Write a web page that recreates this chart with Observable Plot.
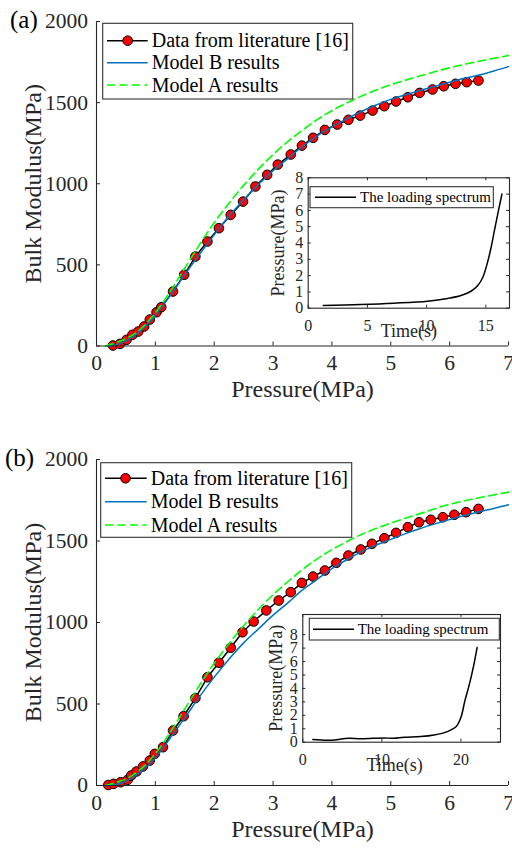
<!DOCTYPE html>
<html><head><meta charset="utf-8">
<script src="https://cdn.jsdelivr.net/npm/d3@7"></script>
<script src="https://cdn.jsdelivr.net/npm/@observablehq/plot@0.6"></script>
<style>
body{margin:0;background:#fff;}
#root{position:relative;width:512px;height:850px;overflow:hidden;}
#root > svg{position:absolute;}
</style></head><body><div id="root"></div>
<script>
const FONT = '"Liberation Serif","Times New Roman",serif';

// ---------- Data ----------
const seriesNames = ["Data from literature [16]", "Model B results", "Model A results"];
const insetLegendName = "The loading spectrum";
const xLabel = "Pressure(MPa)";
const yLabel = "Bulk Modulus(MPa)";
const insetXLabel = "Time(s)";
const insetYLabel = "Pressure(MPa)";

const xTicks = [0, 1, 2, 3, 4, 5, 6, 7];
const yTicks = [0, 500, 1000, 1500, 2000];

// Panel (a)
const litA_p = [0.28,0.40,0.51,0.61,0.71,0.81,0.905,1.02,1.10,1.30,1.49,1.68,1.885,2.08,2.28,2.49,2.70,2.90,3.08,3.30,3.49,3.68,3.88,4.09,4.28,4.48,4.69,4.89,5.09,5.29,5.49,5.71,5.90,6.10,6.29,6.49];
const litA_k = [3,13,38,69,89,120,163,208,239,336,439,551,644,726,808,890,983,1055,1118,1180,1235,1283,1332,1365,1394,1420,1451,1478,1507,1533,1560,1581,1601,1616,1626,1636];
const modelBA_p = [0.17,0.3,0.5,0.75,1.0,1.25,1.5,1.75,2.0,2.25,2.5,2.75,3.0,3.25,3.5,3.75,4.0,4.25,4.5,4.75,5.0,5.25,5.5,5.75,6.0,6.25,6.5,6.75,7.0];
const modelBA_k = [0,5,30,95,190,310,440,565,685,800,900,995,1080,1155,1230,1295,1350,1400,1445,1485,1520,1548,1575,1600,1625,1650,1670,1695,1722];
const modelAA_p = [0.15,0.5,0.75,1.0,1.25,1.5,1.75,2.0,2.25,2.5,2.75,3.0,3.25,3.5,3.75,4.0,4.5,5.0,5.5,6.0,6.5,7.0];
const modelAA_k = [0,45,105,205,335,480,625,760,880,990,1090,1180,1260,1330,1395,1450,1540,1610,1665,1715,1755,1790];
const insetA_t = [1.27,4.43,7.25,10.08,11.78,12.9,13.75,14.32,14.75,15.11,15.45,15.73,16.07,16.36];
const insetA_p = [0.17,0.23,0.31,0.43,0.6,0.78,1.04,1.39,1.9,2.72,3.74,4.77,6.0,7.0];
const insetA_xTicks = [0, 5, 10, 15];
const insetA_yTicks = [0,1,2,3,4,5,6,7,8];

// Panel (b)
const litB_p = [0.20,0.29,0.41,0.53,0.59,0.68,0.79,0.905,0.99,1.13,1.30,1.48,1.68,1.885,2.08,2.28,2.48,2.67,2.886,3.095,3.30,3.49,3.68,3.88,4.075,4.28,4.49,4.68,4.89,5.09,5.29,5.48,5.68,5.885,6.08,6.28,6.49];
const litB_k = [3,10,20,35,61,86,117,153,194,235,337,425,536,664,753,845,940,1006,1074,1135,1186,1243,1282,1319,1366,1411,1448,1483,1517,1550,1585,1615,1630,1646,1661,1677,1697];
const modelBB_p = [0.17,0.3,0.5,0.75,1.0,1.25,1.5,1.75,2.0,2.25,2.5,2.75,3.0,3.25,3.5,3.75,4.0,4.25,4.5,4.75,5.0,5.25,5.5,5.75,6.0,6.25,6.5,6.75,7.0];
const modelBB_k = [0,4,25,85,170,290,415,545,665,775,875,960,1045,1120,1200,1265,1330,1385,1435,1475,1510,1545,1577,1605,1632,1657,1680,1700,1722];
const modelAB_p = [0.15,0.5,0.75,1.0,1.25,1.5,1.75,2.0,2.25,2.5,2.75,3.0,3.25,3.5,3.75,4.0,4.5,5.0,5.5,6.0,6.5,7.0];
const modelAB_k = [0,40,100,195,325,470,615,750,870,980,1080,1170,1250,1325,1390,1447,1540,1610,1668,1725,1765,1800];
const insetB_t = [1.27,3.5,5.84,7.3,10.3,11.5,12.8,14.9,16.6,18.3,19.4,20.0,20.5,21.07,21.6,22.04];
const insetB_p = [0.2,0.15,0.3,0.25,0.32,0.29,0.37,0.42,0.54,0.79,1.16,1.85,3.09,4.32,5.68,7.04];
const insetB_xTicks = [0, 10, 20];
const insetB_yTicks = [0,1,2,3,4,5,6,7,8];

// ---------- helpers ----------
const zip = (xs, ys) => xs.map((x, i) => ({x, y: ys[i]}));
const root = document.getElementById("root");
const AXC = "#262626";

function mainPlot({top, height, marginBottom, lit, mb, ma}) {
  const mL = 96, mR = 4, mT = 21;
  const pw = 512 - mL - mR, ph = height - mT - marginBottom;
  const svg = Plot.plot({
    width: 512, height, marginLeft: mL, marginRight: mR, marginTop: mT, marginBottom,
    x: {domain: [0, 7]}, y: {domain: [0, 2000]},
    style: {fontFamily: FONT, color: AXC, background: "transparent", overflow: "visible"},
    marks: [
      Plot.line(lit, {x: "x", y: "y", stroke: "#000", strokeWidth: 1.5}),
      Plot.dot(lit, {x: "x", y: "y", r: 4.8, fill: "#ff0000", stroke: "#000", strokeWidth: 1}),
      Plot.line(mb, {x: "x", y: "y", stroke: "#0072bd", strokeWidth: 1.5, curve: "catmull-rom"}),
      Plot.line(ma, {x: "x", y: "y", stroke: "#00ff00", strokeWidth: 1.6, strokeDasharray: "8,4.5", curve: "catmull-rom"}),
      Plot.ruleY([0], {stroke: AXC, strokeWidth: 1.1}),
      Plot.ruleX([0], {stroke: AXC, strokeWidth: 1.1}),
      Plot.tickX(xTicks, {x: d => d, insetTop: ph - 4, stroke: AXC}),
      Plot.tickY(yTicks, {y: d => d, insetRight: pw - 4, stroke: AXC}),
      Plot.axisX(xTicks, {tickSize: 0, tickPadding: 9, fontSize: 21.5, fontFamily: FONT, tickFormat: d => String(d), label: null}),
      Plot.axisY(yTicks, {tickSize: 0, tickPadding: 8.5, fontSize: 21.5, fontFamily: FONT, tickFormat: d => String(d), label: null}),
      Plot.text([xLabel], {text: d => d, frameAnchor: "bottom", textAnchor: "middle", dy: 51, fontSize: 24, fontFamily: FONT, fill: AXC}),
      Plot.text([yLabel], {text: d => d, frameAnchor: "left", textAnchor: "middle", dx: -63, rotate: -90, fontSize: 24, fontFamily: FONT, fill: AXC})
    ]
  });
  svg.style.left = "0px"; svg.style.top = top + "px";
  root.appendChild(svg);
}

function insetPlot({left, top, width, height, mL, mR, mT, mB, xDomain, yDomain, xt, yt, pts, yLabDx, xLabDx}) {
  const pw = width - mL - mR, ph = height - mT - mB;
  const svg = Plot.plot({
    width, height, marginLeft: mL, marginRight: mR, marginTop: mT, marginBottom: mB,
    x: {domain: xDomain}, y: {domain: yDomain},
    style: {fontFamily: FONT, color: AXC, background: "transparent", overflow: "visible"},
    marks: [
      Plot.frame({fill: "white", stroke: "none"}),
      Plot.line(pts, {x: "x", y: "y", stroke: "#000", strokeWidth: 1.5, curve: "catmull-rom"}),
      Plot.tickX(xt, {x: d => d, insetTop: ph - 3, stroke: AXC}),
      Plot.tickX(xt, {x: d => d, insetBottom: ph - 3, stroke: AXC}),
      Plot.tickY(yt, {y: d => d, insetRight: pw - 3, stroke: AXC}),
      Plot.tickY(yt, {y: d => d, insetLeft: pw - 3, stroke: AXC}),
      Plot.frame({stroke: AXC, strokeWidth: 1.1}),
      Plot.axisX(xt, {tickSize: 0, tickPadding: 11.3, fontSize: 16, fontFamily: FONT, tickFormat: d => String(d), label: null}),
      Plot.axisY(yt, {tickSize: 0, tickPadding: 5, fontSize: 16, fontFamily: FONT, tickFormat: d => String(d), label: null}),
      Plot.text([insetXLabel], {text: d => d, frameAnchor: "bottom", textAnchor: "middle", dy: 29, dx: xLabDx, fontSize: 18, fontFamily: FONT, fill: AXC}),
      Plot.text([insetYLabel], {text: d => d, frameAnchor: "left", textAnchor: "middle", dx: yLabDx, rotate: -90, fontSize: 18, fontFamily: FONT, fill: AXC})
    ]
  });
  svg.style.left = left + "px"; svg.style.top = top + "px";
  root.appendChild(svg);
}

mainPlot({top: 0, height: 420, marginBottom: 74.5,
  lit: zip(litA_p, litA_k), mb: zip(modelBA_p, modelBA_k), ma: zip(modelAA_p, modelAA_k)});
mainPlot({top: 438, height: 412, marginBottom: 65,
  lit: zip(litB_p, litB_k), mb: zip(modelBB_p, modelBB_k), ma: zip(modelAB_p, modelAB_k)});

insetPlot({left: 250, top: 160, width: 262, height: 190, mL: 57.7, mR: 3, mT: 17.3, mB: 42.3,
  xDomain: [0, 17], yDomain: [0, 8], xt: insetA_xTicks, yt: insetA_yTicks,
  pts: zip(insetA_t, insetA_p), yLabDx: -29.7, xLabDx: 0});
insetPlot({left: 250, top: 600, width: 262, height: 185, mL: 52.3, mR: 12, mT: 14, mB: 43.3,
  xDomain: [0, 25], yDomain: [0, 9.5], xt: insetB_xTicks, yt: insetB_yTicks,
  pts: zip(insetB_t, insetB_p), yLabDx: -27, xLabDx: -7});

// ---------- overlay: legends and panel letters ----------
const ov = d3.select(root).append("svg")
  .attr("width", 512).attr("height", 850)
  .style("left", "0px").style("top", "0px")
  .style("font-family", FONT);

function mainLegend(bx, by, bw, bh, rows, lx0, lx1, mx, tx) {
  ov.append("rect").attr("x", bx).attr("y", by).attr("width", bw).attr("height", bh)
    .attr("fill", "white").attr("stroke", "#333").attr("stroke-width", 1.1);
  ov.append("line").attr("x1", lx0).attr("x2", lx1).attr("y1", rows[0]).attr("y2", rows[0])
    .attr("stroke", "#000").attr("stroke-width", 1.5);
  ov.append("circle").attr("cx", mx).attr("cy", rows[0]).attr("r", 4.8)
    .attr("fill", "#ff0000").attr("stroke", "#000");
  ov.append("line").attr("x1", lx0).attr("x2", lx1).attr("y1", rows[1]).attr("y2", rows[1])
    .attr("stroke", "#0072bd").attr("stroke-width", 1.5);
  ov.append("line").attr("x1", lx0).attr("x2", lx1).attr("y1", rows[2]).attr("y2", rows[2])
    .attr("stroke", "#00ff00").attr("stroke-width", 1.6).attr("stroke-dasharray", "8,4.5");
  seriesNames.forEach((s, i) => {
    ov.append("text").attr("x", tx).attr("y", rows[i] + 6.5).attr("font-size", 20)
      .attr("fill", "#000").text(s);
  });
}
mainLegend(102.7, 23.3, 250, 75.7, [40.7, 62.7, 85], 107, 147.7, 127.7, 151.7);
mainLegend(100.7, 462.7, 251, 74.6, [478.3, 501.7, 525], 105, 146.7, 125.5, 150.7);

function insetLegend(bx, by, bw, bh, lx0, lx1, tx) {
  const cy = by + bh / 2;
  ov.append("rect").attr("x", bx).attr("y", by).attr("width", bw).attr("height", bh)
    .attr("fill", "white").attr("stroke", "#333").attr("stroke-width", 1.1);
  ov.append("line").attr("x1", lx0).attr("x2", lx1).attr("y1", cy).attr("y2", cy)
    .attr("stroke", "#000").attr("stroke-width", 1.5);
  ov.append("text").attr("x", tx).attr("y", cy + 5).attr("font-size", 15)
    .attr("fill", "#000").text(insetLegendName);
}
insetLegend(310, 186.7, 183.3, 21, 315, 356, 360);
insetLegend(309.3, 618.3, 190, 21.7, 313, 354, 357.7);

ov.append("text").attr("x", 10).attr("y", 27.7).attr("font-size", 25).attr("fill", "#000").text("(a)");
ov.append("text").attr("x", 5).attr("y", 465.7).attr("font-size", 25).attr("fill", "#000").text("(b)");
</script></body></html>
